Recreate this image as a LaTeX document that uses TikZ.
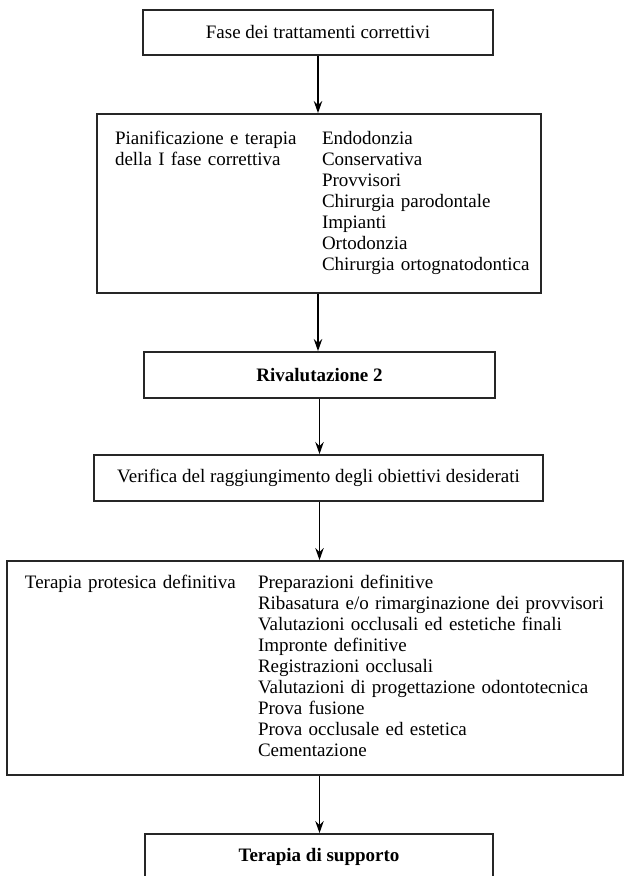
\documentclass[tikz,border=0pt]{standalone}
\usepackage{fontspec}
\setmainfont{Liberation Serif}
\usetikzlibrary{arrows.meta}

\begin{document}
\begin{tikzpicture}[x=0.5pt, y=-0.5pt,
		font=\fontsize{9.5}{10.5}\selectfont,
		box/.style={draw=black!85, line width=0.9pt, inner xsep=9pt, inner ysep=0pt, align=left},
		flow/.style={-{Stealth[length=6pt, width=4.2pt]}, line width=0.7pt}]
		\clip (0,0) rectangle (625,876);

		\node[box, align=center, minimum width=175pt, minimum height=22.5pt] (fase) at (318,32.5) {Fase dei trattamenti correttivi};
		\node[box, text width=204pt, minimum height=89.5pt] (piano) at (319,203.5) {%
			\begin{tabular}{@{}p{103.5pt}@{}l@{}}
				Pianificazione e terapia & Endodonzia\\
				della I fase correttiva & Conservativa\\
				& Provvisori\\
				& Chirurgia parodontale\\
				& Impianti\\
				& Ortodonzia\\
				& Chirurgia ortognatodontica
			\end{tabular}};
		\node[box, align=center, minimum width=175.5pt, minimum height=23pt] (rival) at (319.5,375) {\bfseries Rivalutazione 2};
		\node[box, align=center, minimum width=224.5pt, minimum height=23pt] (verifica) at (318.5,478) {Verifica del raggiungimento degli obiettivi desiderati};
		\node[box, text width=290pt, minimum height=107pt] (protesi) at (315,668) {%
			\begin{tabular}{@{}p{116.5pt}@{}l@{}}
				Terapia protesica definitiva & Preparazioni definitive\\
				& Ribasatura e/o rimarginazione dei provvisori\\
				& Valutazioni occlusali ed estetiche finali\\
				& Impronte definitive\\
				& Registrazioni occlusali\\
				& Valutazioni di progettazione odontotecnica\\
				& Prova fusione\\
				& Prova occlusale ed estetica\\
				& Cementazione
			\end{tabular}};
		\node[box, align=center, minimum width=174pt, minimum height=23pt] (supporto) at (319,857) {\bfseries Terapia di supporto};

		\draw[flow] (fase.south) -- (fase.south |- piano.north);
		\draw[flow] (fase.south |- piano.south) -- (fase.south |- rival.north);
		\draw[flow] (rival.south) -- (rival.south |- verifica.north);
		\draw[flow] (rival.south |- verifica.south) -- (rival.south |- protesi.north);
		\draw[flow] (rival.south |- protesi.south) -- (rival.south |- supporto.north);
	\end{tikzpicture}
\end{document}
